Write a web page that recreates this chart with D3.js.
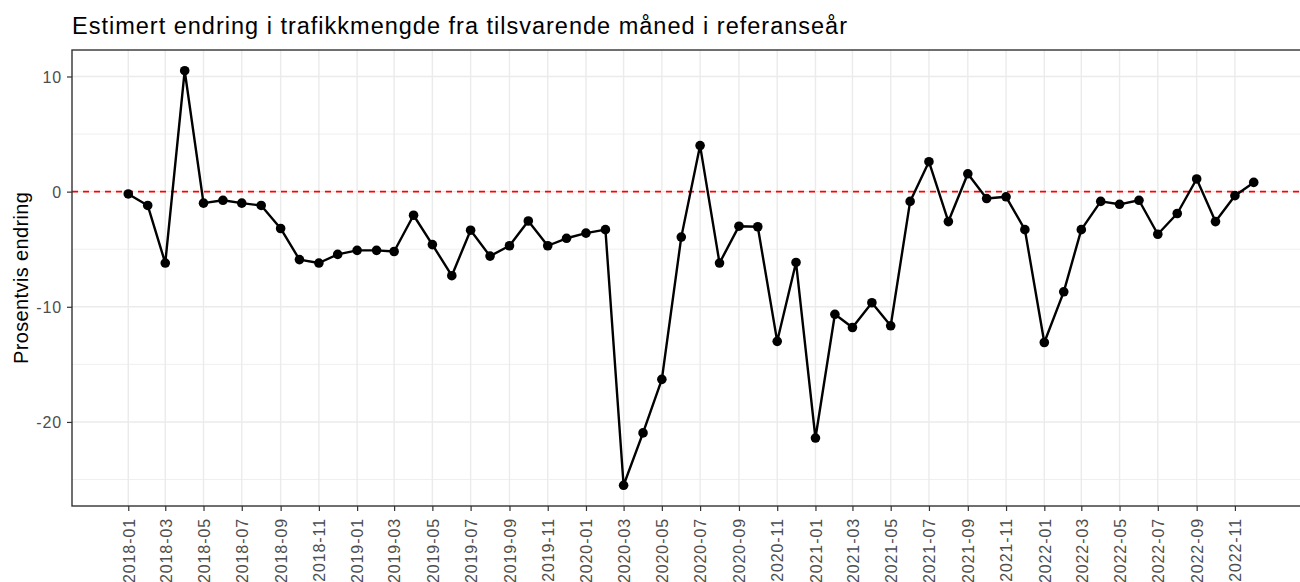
<!DOCTYPE html>
<meta charset="utf-8">
<style>
body { margin: 0; background: #fff; }
text { font-family: "Liberation Sans", Arial, sans-serif; }
.grid line { stroke: #ebebeb; }
.axis path { display: none; }
.axis line { stroke: #333; stroke-width: 1.2; }
.axis text { fill: #4d4d4d; font-size: 16px; letter-spacing: 0.9px; }
</style>
<head>
<script src="https://cdn.jsdelivr.net/npm/d3@7"></script>
</head>
<body>
<script>
// maaneder og estimert endring (prosent)
var months = ["2018-01","2018-02","2018-03","2018-04","2018-05","2018-06","2018-07","2018-08","2018-09","2018-10","2018-11","2018-12",
  "2019-01","2019-02","2019-03","2019-04","2019-05","2019-06","2019-07","2019-08","2019-09","2019-10","2019-11","2019-12",
  "2020-01","2020-02","2020-03","2020-04","2020-05","2020-06","2020-07","2020-08","2020-09","2020-10","2020-11","2020-12",
  "2021-01","2021-02","2021-03","2021-04","2021-05","2021-06","2021-07","2021-08","2021-09","2021-10","2021-11","2021-12",
  "2022-01","2022-02","2022-03","2022-04","2022-05","2022-06","2022-07","2022-08","2022-09","2022-10","2022-11","2022-12"];
var change = [-0.2,-1.2,-6.2,10.5,-1.0,-0.75,-1.0,-1.2,-3.2,-5.9,-6.2,-5.45,
  -5.1,-5.1,-5.2,-2.05,-4.6,-7.3,-3.35,-5.6,-4.7,-2.55,-4.7,-4.05,
  -3.6,-3.3,-25.5,-20.95,-16.3,-3.95,4.0,-6.2,-3.0,-3.05,-13.0,-6.15,
  -21.4,-10.65,-11.8,-9.65,-11.65,-0.85,2.6,-2.6,1.55,-0.6,-0.45,-3.3,
  -13.1,-8.7,-3.3,-0.85,-1.1,-0.75,-3.7,-1.9,1.1,-2.6,-0.35,0.8];
var yMajor = [-20, -10, 0, 10];
var yMinor = [-25, -15, -5, 5];
var refLine = 0;
var title = "Estimert endring i trafikkmengde fra tilsvarende måned i referanseår";
var yTitle = "Prosentvis endring";

var parse = d3.timeParse("%Y-%m");
var data = months.map(function(m, i) { return {date: parse(m), value: change[i]}; });

var margin = {top: 50, left: 72},
    width = 1238,
    height = 456;

var svg = d3.select("body").append("svg")
    .attr("width", 1300)
    .attr("height", 582);

var g = svg.append("g").attr("transform", "translate(" + margin.left + "," + margin.top + ")");

// ggplot-style 5% expansion
var xExt = d3.extent(data, d => d.date);
var xPad = (xExt[1] - xExt[0]) * 0.05;
var x = d3.scaleTime()
    .domain([new Date(+xExt[0] - xPad), new Date(+xExt[1] + xPad)])
    .range([0, width]);

var yExt = d3.extent(change);
var yPad = (yExt[1] - yExt[0]) * 0.05;
var y = d3.scaleLinear()
    .domain([yExt[0] - yPad, yExt[1] + yPad])
    .range([height, 0]);

var xTicks = x.ticks(d3.timeMonth.every(2)).filter(d => d >= xExt[0] && d <= xExt[1]);

var grid = g.append("g").attr("class", "grid");
grid.selectAll(".ymin").data(yMinor).enter().append("line")
    .attr("x1", 0).attr("x2", width)
    .attr("y1", d => y(d)).attr("y2", d => y(d))
    .attr("stroke-width", 0.8);
grid.selectAll(".ymaj").data(yMajor).enter().append("line")
    .attr("x1", 0).attr("x2", width)
    .attr("y1", d => y(d)).attr("y2", d => y(d))
    .attr("stroke-width", 1.4);
grid.selectAll(".xmaj").data(xTicks).enter().append("line")
    .attr("y1", 0).attr("y2", height)
    .attr("x1", d => x(d)).attr("x2", d => x(d))
    .attr("stroke-width", 1.4);

// null-linje
g.append("line")
    .attr("x1", 0).attr("x2", width)
    .attr("y1", y(refLine)).attr("y2", y(refLine))
    .attr("stroke", "#ff0000")
    .attr("stroke-width", 1.6)
    .attr("stroke-dasharray", "6,5");

var line = d3.line().x(d => x(d.date)).y(d => y(d.value));
g.append("path")
    .datum(data)
    .attr("fill", "none")
    .attr("stroke", "#000")
    .attr("stroke-width", 2.4)
    .attr("stroke-linejoin", "round")
    .attr("d", line);

g.selectAll("circle").data(data).enter().append("circle")
    .attr("cx", d => x(d.date))
    .attr("cy", d => y(d.value))
    .attr("r", 4.8)
    .attr("fill", "#000");

g.append("rect")
    .attr("width", width).attr("height", height)
    .attr("fill", "none")
    .attr("stroke", "#333")
    .attr("stroke-width", 1.4);

var yAxis = g.append("g").attr("class", "axis")
    .call(d3.axisLeft(y).tickValues(yMajor).tickSize(5).tickPadding(5).tickFormat(d => String(d)));
yAxis.selectAll("text").attr("dy", "0.36em");

var xAxis = g.append("g").attr("class", "axis")
    .attr("transform", "translate(0," + height + ")")
    .call(d3.axisBottom(x).tickValues(xTicks).tickSize(5).tickFormat(d3.timeFormat("%Y-%m")));
xAxis.selectAll("text")
    .attr("y", 0)
    .attr("dy", "0.36em")
    .attr("text-anchor", "end")
    .attr("transform", "translate(0,12) rotate(-90)");

svg.append("text")
    .attr("x", 72)
    .attr("y", 34)
    .attr("font-size", "23.5px")
    .attr("fill", "#000")
    .attr("textLength", 775)
    .attr("lengthAdjust", "spacing")
    .text(title);

svg.append("text")
    .attr("transform", "translate(28," + (margin.top + height / 2) + ") rotate(-90)")
    .attr("text-anchor", "middle")
    .attr("font-size", "20px")
    .attr("fill", "#000")
    .attr("textLength", 172)
    .attr("lengthAdjust", "spacing")
    .text(yTitle);
</script>
</body>
</html>
